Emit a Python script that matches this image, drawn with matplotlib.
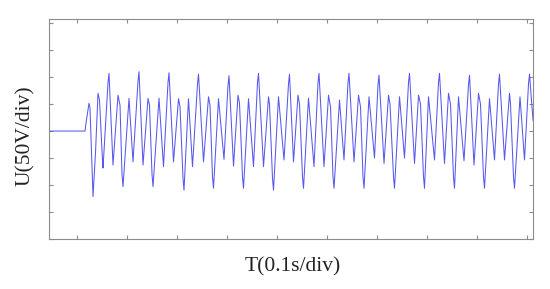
import matplotlib
matplotlib.use("Agg")
import matplotlib.pyplot as plt
import numpy as np

# Waveform turning points: time (s), voltage (div)
wave_t = [0.044, 0.116, 0.118, 0.124, 0.132, 0.137, 0.142, 0.151, 0.152,
          0.164, 0.172, 0.182, 0.192, 0.204, 0.212, 0.224, 0.232, 0.242, 0.252,
          0.264, 0.273, 0.284, 0.293, 0.303, 0.314, 0.323, 0.331, 0.343, 0.353,
          0.363, 0.373, 0.383, 0.394, 0.404, 0.413, 0.422, 0.433, 0.443, 0.453,
          0.463, 0.473, 0.483, 0.493, 0.503, 0.514, 0.525, 0.533, 0.542, 0.553,
          0.563, 0.574, 0.584, 0.594, 0.603, 0.614, 0.625, 0.634, 0.644, 0.654,
          0.663, 0.674, 0.684, 0.695, 0.704, 0.714, 0.723, 0.735, 0.745, 0.755,
          0.765, 0.775, 0.783, 0.795, 0.803, 0.815, 0.825, 0.835, 0.843, 0.855,
          0.863, 0.874, 0.885, 0.894, 0.903, 0.915, 0.925, 0.935, 0.945, 0.955,
          0.965, 0.975, 0.986, 0.995, 1.005, 1.012]
wave_v = [0.0, 0.0, 0.3, 1.03, -2.43, -0.8, 1.4, -1.1, -1.37,
          2.14, -1.26, 1.33, -2.06, 1.21, -1.14, 2.2, -1.26, 1.21, -2.06,
          1.22, -1.32, 2.16, -1.14, 1.2, -2.19, 1.2, -1.32, 2.11, -1.14,
          1.27, -2.12, 1.2, -1.05, 2.05, -1.3, 1.33, -2.12, 1.2, -1.32,
          2.14, -1.32, 1.27, -2.19, 1.27, -1.07, 2.11, -1.14, 1.33, -2.12,
          1.22, -1.32, 2.14, -1.32, 1.33, -2.12, 1.15, -1.07, 2.14, -1.14,
          1.33, -2.12, 1.27, -1.0, 2.07, -1.2, 1.33, -2.12, 1.27, -1.0,
          2.14, -1.2, 1.33, -2.12, 1.27, -1.07, 2.14, -1.2, 1.4, -2.12,
          1.27, -1.1, 2.07, -1.26, 1.4, -2.12, 1.2, -1.07, 2.11, -1.07,
          1.4, -2.12, 1.27, -1.07, 2.11, 0.4]

# small shoulders on the falling edge after some of the peaks
shoulder_t = [0.126, 0.145, 0.186, 0.245, 0.306, 0.366, 0.425, 0.485, 0.545,
              0.607, 0.667, 0.726, 0.787, 0.847, 0.907, 0.967]
shoulder_v = [0.85, 1.15, 0.96, 0.96, 0.9, 0.95, 1.03, 1.0, 1.0,
              0.9, 0.9, 1.0, 1.0, 1.0, 1.0, 1.0]

# kinks just before the big peaks and the big troughs
kink_t = [0.162, 0.222, 0.282, 0.341, 0.402, 0.461, 0.523, 0.582, 0.642,
          0.702, 0.763, 0.823, 0.883, 0.943, 1.003,
          0.190, 0.250, 0.312, 0.371, 0.431, 0.491, 0.551, 0.612, 0.672,
          0.733, 0.793, 0.853, 0.913, 0.973]
kink_v = [1.8, 1.85, 1.8, 1.75, 1.7, 1.8, 1.75, 1.8, 1.8,
          1.72, 1.8, 1.8, 1.72, 1.75, 1.75,
          -1.6, -1.6, -1.75, -1.7, -1.7, -1.75, -1.7, -1.7, -1.7,
          -1.7, -1.7, -1.7, -1.7, -1.7]

x_ticks = [0.1, 0.2, 0.3, 0.4, 0.5, 0.6, 0.7, 0.8, 0.9, 1.0]
y_ticks = [-4, -3, -2, -1, 0, 1, 2, 3, 4]

t = np.array(wave_t + shoulder_t + kink_t)
v = np.array(wave_v + shoulder_v + kink_v)
order = np.argsort(t, kind="stable")
t, v = t[order], v[order]

fig = plt.figure(figsize=(5.5, 2.89), dpi=100)
ax = fig.add_axes([0.0891, 0.173, 0.88, 0.761])
ax.plot(t, v, color="#5858ee", linewidth=0.75)

ax.set_xlim(0.044, 1.012)
ax.set_ylim(-4, 4.15)
ax.set_xticks(x_ticks)
ax.set_yticks(y_ticks)
grey = "#8c8c8c"
ax.tick_params(direction="in", length=3, width=0.8, color=grey,
               top=True, right=True, labelbottom=False, labelleft=False)
for s in ax.spines.values():
    s.set_color(grey)
    s.set_linewidth(0.8)

fam = ["Liberation Serif", "Noto Sans CJK SC"]
fig.text(0.533, 0.076, "T(0.1s/div)", ha="center", va="center",
         fontsize=15.5, family=fam, color="#222222")
fig.text(0.046, 0.529, "U(50V/div)", ha="center", va="center",
         rotation=90, fontsize=15.5, family=fam, color="#222222")

fig.savefig("out.png", dpi=100)
